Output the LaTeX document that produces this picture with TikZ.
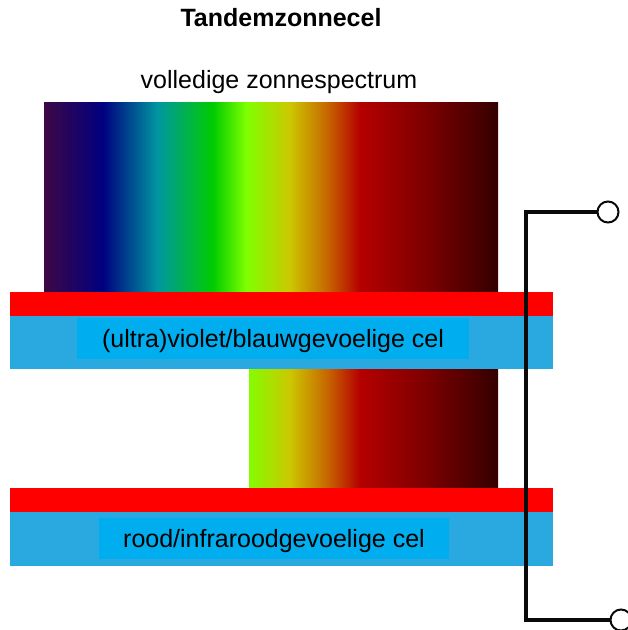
\documentclass[tikz,border=0pt]{standalone}
\usepackage{fontspec}
\setmainfont{Liberation Sans}
\usepackage{tikz}
\usepackage{xcolor}
\usetikzlibrary{positioning}
\definecolor{CellRed}{RGB}{255, 0, 0}
\definecolor{CellBlue}{RGB}{41, 169, 224}
\definecolor{LabelBlue}{RGB}{0, 174, 239}
\definecolor{WireBlack}{RGB}{10, 10, 10}

% Spectrum from violet to deep red (stops between 25bp and 75bp fill the path)
\pgfdeclarehorizontalshading{spectrum}{100bp}{
  rgb(0bp)=(0.24,0.03,0.27);
  rgb(25bp)=(0.24,0.03,0.27);
  rgb(31.5bp)=(0,0,0.50);
  rgb(37.5bp)=(0,0.59,0.63);
  rgb(43.6bp)=(0,0.80,0);
  rgb(47.3bp)=(0.50,1,0);
  rgb(52.1bp)=(0.80,0.78,0);
  rgb(56.2bp)=(0.78,0.40,0);
  rgb(59.8bp)=(0.71,0,0);
  rgb(66.8bp)=(0.50,0,0);
  rgb(75bp)=(0.20,0,0);
  rgb(100bp)=(0.20,0,0)}

\begin{document}
\begin{tikzpicture}[x=1pt, y=-1pt,
    bigtext/.style={font=\fontsize{25}{30}\selectfont, inner sep=0pt},
    redlayer/.style={rectangle, fill=CellRed, inner sep=0pt, minimum width=543pt, minimum height=23.5pt},
    bluelayer/.style={rectangle, fill=CellBlue, inner sep=0pt, minimum width=543pt, minimum height=54pt},
    celllabel/.style={rectangle, fill=LabelBlue, inner sep=0pt, minimum height=41pt,
        text height=18pt, text depth=0pt, bigtext},
    terminal/.style={circle, draw=WireBlack, line width=2pt, fill=white, inner sep=0pt, minimum size=21pt},
    wire/.style={draw=WireBlack, line width=3.3pt, line cap=rect}
]
\useasboundingbox (0,0) rectangle (628,630);

% Titles
\node[bigtext, font=\fontsize{25}{30}\selectfont\bfseries, anchor=base] (title) at (281,26.5) {Tandemzonnecel};
\node[bigtext, anchor=base] (fullspec) at (279,88) {volledige zonnespectrum};

% Incoming light
\shade[shading=spectrum] (44,102) rectangle (498,292.5);

% Light passed on to the second cell
\begin{scope}
  \clip (249,369) rectangle (498,488);
  \shade[shading=spectrum] (44,369) rectangle (498,488);
\end{scope}

% Upper cell
\node[redlayer] (topred) at (281.5,304) {};
\node[bluelayer, minimum height=53.5pt] (topblue) at (281.5,342.25) {};
\node[celllabel, minimum width=392pt] (toplabel) at (273,338.8) {(ultra)violet/blauwgevoelige cel};

% Lower cell
\node[redlayer] (botred) at (281.5,499.75) {};
\node[bluelayer] (botblue) at (281.5,538.5) {};
\node[celllabel, minimum width=350pt] (botlabel) at (274,538.8) {rood/infraroodgevoelige cel};

% Contacts
\coordinate (ctop) at (526,212);
\coordinate (cbot) at (526,620);
\node[terminal] (ttop) at (608,212) {};
\node[terminal] (tbot) at (621,620) {};
\draw[wire] (ttop.west) -- (ctop) -- (cbot) -- (tbot.west);

\end{tikzpicture}
\end{document}
